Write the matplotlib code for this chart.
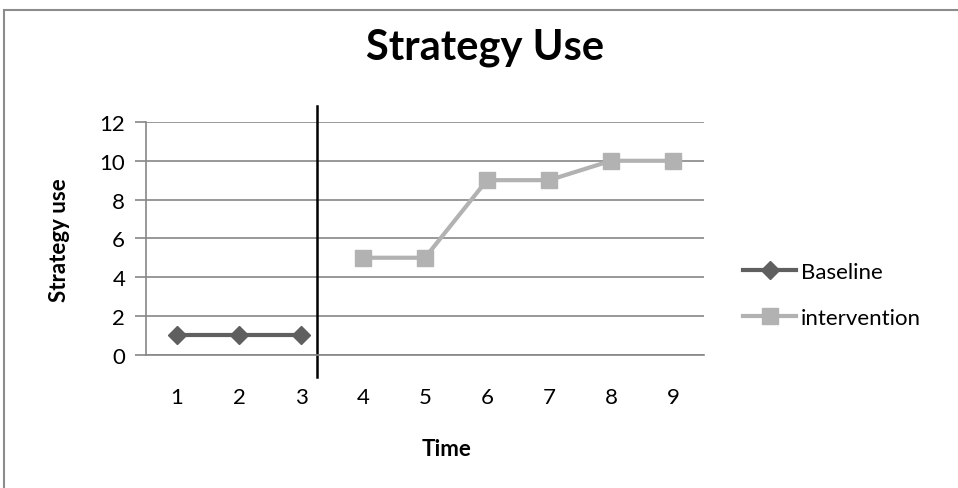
import matplotlib
matplotlib.use('Agg')
import matplotlib.pyplot as plt
from matplotlib.patches import Rectangle
from matplotlib.lines import Line2D

plt.rcParams['font.family'] = ['Lato', 'DejaVu Sans']

time_points = [1, 2, 3, 4, 5, 6, 7, 8, 9]
baseline_x = [1, 2, 3]
baseline_y = [1, 1, 1]
intervention_x = [4, 5, 6, 7, 8, 9]
intervention_y = [5, 5, 9, 9, 10, 10]
phase_change = 3.25

W, H = 958, 489
fig = plt.figure(figsize=(W / 100, H / 100), dpi=100)

# outer chart frame (runs off the right and bottom edges)
fig.patches.append(Rectangle((4 / W, -0.1), 1.2, 1.1 - 11 / H, transform=fig.transFigure,
                             fill=False, edgecolor='#8c8c8c', linewidth=1.5))

ax = fig.add_axes([146 / W, 1 - 355.7 / H, 558 / W, (355.7 - 123) / H])
ax.set_xlim(0.5, 9.5)
ax.set_ylim(0, 12)

ax.plot(baseline_x, baseline_y, color='#5f5f5f', linewidth=3, marker='D',
        markersize=9, label='Baseline')
ax.plot(intervention_x, intervention_y, color='#b2b2b2', linewidth=3, marker='s',
        markersize=12, label='intervention')

# phase change line
ax.add_line(Line2D([phase_change, phase_change], [-1.15, 12.85], color='black',
                   linewidth=1.8, clip_on=False))

ax.set_yticks(range(0, 13, 2))
ax.set_xticks(time_points)
ax.grid(axis='y', color='#868686', linewidth=1.2)
ax.set_axisbelow(True)
for s in ['top', 'right']:
    ax.spines[s].set_visible(False)
ax.spines['left'].set_color('#868686')
ax.spines['bottom'].set_color('#868686')
ax.spines['left'].set_linewidth(1.2)
ax.spines['bottom'].set_linewidth(1.2)
ax.tick_params(axis='y', length=8, color='#868686', width=1.2, labelsize=16, pad=7)
ax.tick_params(axis='x', length=0, labelsize=16, pad=23)

fig.text(60 / W, 1 - 240 / H, 'Strategy use', fontsize=16, fontweight='bold',
         rotation=90, ha='center', va='center')
fig.text(447 / W, 1 - 450 / H, 'Time', fontsize=16, fontweight='bold',
         ha='center', va='center')
fig.text(485 / W, 1 - 48 / H, 'Strategy Use', fontsize=30, fontweight='bold',
         ha='center', va='center')

fig.legend(loc='center left', bbox_to_anchor=(743 / W, 1 - 296 / H), frameon=False,
           fontsize=16, handlelength=2.4, handletextpad=0.2, labelspacing=1.15,
           borderpad=0, borderaxespad=0)

fig.savefig('out.png', dpi=100)
